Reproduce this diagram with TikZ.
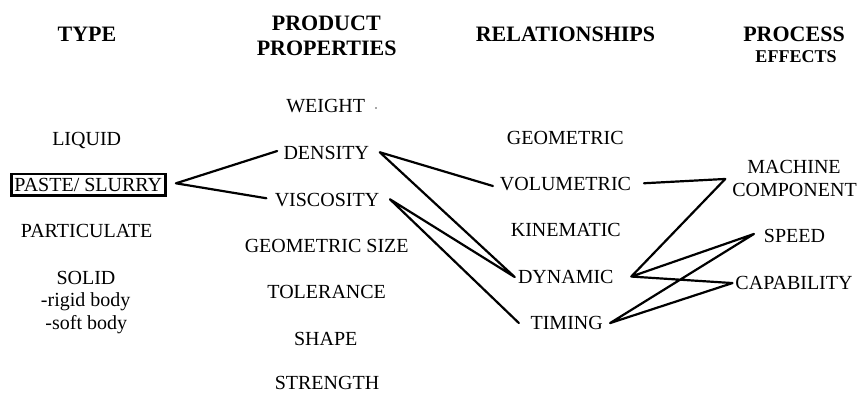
\documentclass[tikz,border=0pt]{standalone}
\usepackage{fontspec}
\setmainfont{Liberation Serif}
\begin{document}
\begin{tikzpicture}[x=1pt,y=-1pt,
  lbl/.style={anchor=base, inner sep=0pt, outer sep=0pt, font=\fontsize{20}{24}\selectfont, text height=13.5pt, text depth=0pt},
  hdr/.style={anchor=base, inner sep=0pt, font=\fontsize{22}{26}\selectfont\bfseries},
  subhdr/.style={anchor=base, inner sep=0pt, font=\fontsize{18}{22}\selectfont\bfseries},
  link/.style={line width=2.2pt, line cap=round, line join=round}]
\useasboundingbox (0,0) rectangle (857,392);
% headings
\node[hdr] (hType) at (87,41.5) {TYPE};
\node[hdr] (hProd1) at (326.3,30) {PRODUCT};
\node[hdr] (hProd2) at (326.7,55) {PROPERTIES};
\node[hdr] (hRel) at (565.5,41.7) {RELATIONSHIPS};
\node[hdr] (hProc) at (794,41.7) {PROCESS};
\node[subhdr] (hEff) at (796,62.7) {EFFECTS};
% type column
\node[lbl] (liquid) at (86.7,145) {LIQUID};
\node[lbl, draw, line width=2.6pt, anchor=center, minimum width=154pt, minimum height=21.4pt] (paste) at (88.3,184.75) {PASTE/ SLURRY};
\node[lbl] (partic) at (86.7,237.7) {PARTICULATE};
\node[lbl] (solid) at (86,284) {SOLID};
\node[lbl] (rigid) at (85.7,306.7) {-rigid body};
\node[lbl] (soft) at (86.3,329.3) {-soft body};
% product properties
\node[lbl] (weight) at (325.7,112.5) {WEIGHT};
\node[circle, fill=black!70, inner sep=0pt, minimum size=1.6pt] (wdot) at (376,108) {};
\node[lbl] (dens) at (326.3,159) {DENSITY};
\node[lbl] (visc) at (327,206) {VISCOSITY};
\node[lbl] (geosize) at (326.7,252) {GEOMETRIC SIZE};
\node[lbl] (toler) at (326.7,298) {TOLERANCE};
\node[lbl] (shape) at (325.8,345) {SHAPE};
\node[lbl] (strength) at (327,389.3) {STRENGTH};
% relationships
\node[lbl] (geom) at (565.3,144) {GEOMETRIC};
\node[lbl] (volu) at (565.5,190) {VOLUMETRIC};
\node[lbl] (kine) at (565.8,236.7) {KINEMATIC};
\node[lbl] (dyn) at (565.8,283.3) {DYNAMIC};
\node[lbl] (tim) at (566.7,329.3) {TIMING};
% process effects
\node[lbl] (mach) at (794,173.3) {MACHINE};
\node[lbl] (comp) at (794.5,196.7) {COMPONENT};
\node[lbl] (speed) at (794.5,242.7) {SPEED};
\node[lbl] (cap) at (794,289.3) {CAPABILITY};
% connectors
\draw[link] ([shift={(-6.3,-1.25)}]dens.west) -- ([shift={(10.65,-1.45)}]paste.east) -- ([shift={(-8.4,-1)}]visc.west);
\draw[link] ([shift={(-7,2.75)}]volu.west) -- ([shift={(10.7,0)}]dens.east) -- ([shift={(-3.3,0.5)}]dyn.west) -- ([shift={(10.7,0)}]visc.east) -- ([shift={(-11.7,0.5)}]tim.west);
\draw[link] ([shift={(13,0)}]volu.east) -- ([shift={(-7,-11)}]comp.west) -- ([shift={(17.7,0)}]dyn.east) -- ([shift={(-10,-2)}]speed.west) -- ([shift={(7.3,0.5)}]tim.east) -- ([shift={(-3,0.5)}]cap.west) -- ([shift={(17.7,0)}]dyn.east);
\end{tikzpicture}
\end{document}
